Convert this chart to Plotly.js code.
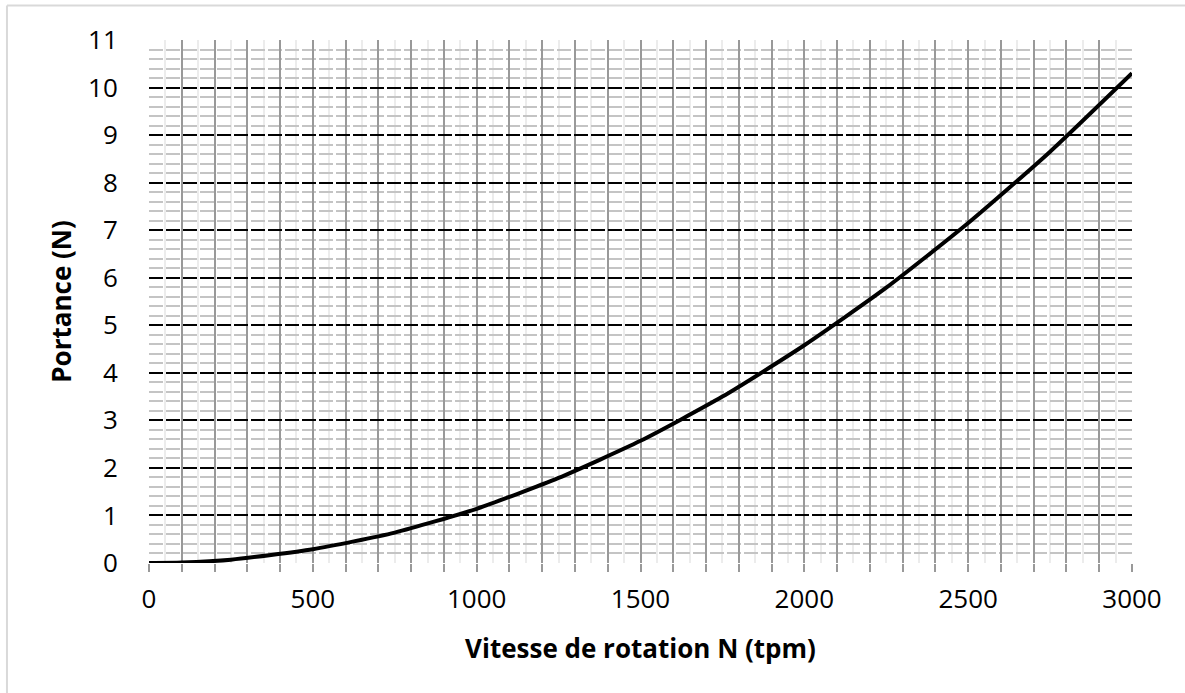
<!DOCTYPE html>
<html>
<head>
<meta charset="utf-8">
<script src="https://cdn.plot.ly/plotly-3.0.1.min.js"></script>
<style>html,body{margin:0;padding:0;background:#fff;}#chart{width:1185px;height:693px;}</style>
</head>
<body>
<div id="chart"></div>
<script>
// Data
var vitesse = [0, 100, 250, 500, 750, 1000, 1250, 1500, 1750, 2000, 2250, 2500, 2750, 3000];
var portance = [0, 0.01, 0.07, 0.29, 0.64, 1.14, 1.79, 2.57, 3.5, 4.58, 5.79, 7.15, 8.65, 10.3];

var xTickVals = [];
var xTickText = [];
for (var v = 0; v <= 3000; v += 100) { xTickVals.push(v); xTickText.push(v % 500 === 0 ? String(v) : ''); }
var yTickVals = [0,1,2,3,4,5,6,7,8,9,10,11];
var yTickText = ['0','1','2','3','4','5','6','7','8','9','10','11'];

var xTitle = 'Vitesse de rotation N (tpm)';
var yTitle = 'Portance (N)';

var font = 'Open Sans, Noto Sans, sans-serif';

var trace = {
  x: vitesse, y: portance, type: 'scatter', mode: 'lines',
  line: {color: '#000000', width: 4, shape: 'spline', smoothing: 0.6},
  hoverinfo: 'skip', showlegend: false
};

var layout = {
  width: 1185, height: 693,
  margin: {l: 149, r: 53, t: 40, b: 130},
  paper_bgcolor: '#ffffff', plot_bgcolor: '#ffffff',
  font: {family: font, size: 26, color: '#000000'},
  xaxis: {
    range: [0, 3000], tickmode: 'array', tickvals: xTickVals, ticktext: xTickText,
    showgrid: true, gridcolor: '#999999', gridwidth: 2,
    ticks: 'outside', ticklen: 8, tickcolor: '#999999', tickwidth: 2,
    ticklabelstandoff: 5,
    minor: {dtick: 50, showgrid: true, gridcolor: '#ececec', gridwidth: 2},
    zeroline: false, showline: false,
    tickfont: {family: font, size: 26, color: '#000000'},
    title: {text: xTitle, font: {family: font, size: 26, color: '#000000', weight: 'bold'}, standoff: 24},
    fixedrange: true
  },
  yaxis: {
    range: [0, 11], tickmode: 'array', tickvals: yTickVals, ticktext: yTickText,
    showgrid: true, gridcolor: '#000000', gridwidth: 2, griddash: '14px,3px',
    ticks: 'outside', ticklen: 25, tickcolor: 'rgba(0,0,0,0)',
    minor: {dtick: 0.2, showgrid: true, gridcolor: '#c4c4c4', gridwidth: 2},
    zeroline: false, showline: false,
    tickfont: {family: font, size: 26, color: '#000000'},
    title: {text: yTitle, font: {family: font, size: 26, color: '#000000', weight: 'bold'}, standoff: 8},
    fixedrange: true
  },
  shapes: [
    {type: 'line', xref: 'paper', yref: 'paper', x0: -0.1445, x1: 1.06, y0: 1.066, y1: 1.066, line: {color: '#d9d9d9', width: 2}},
    {type: 'line', xref: 'paper', yref: 'paper', x0: -0.1445, x1: -0.1445, y0: 1.066, y1: -0.26, line: {color: '#d9d9d9', width: 2}}
  ]
};

Plotly.newPlot('chart', [trace], layout, {staticPlot: true, displayModeBar: false});
</script>
</body>
</html>
